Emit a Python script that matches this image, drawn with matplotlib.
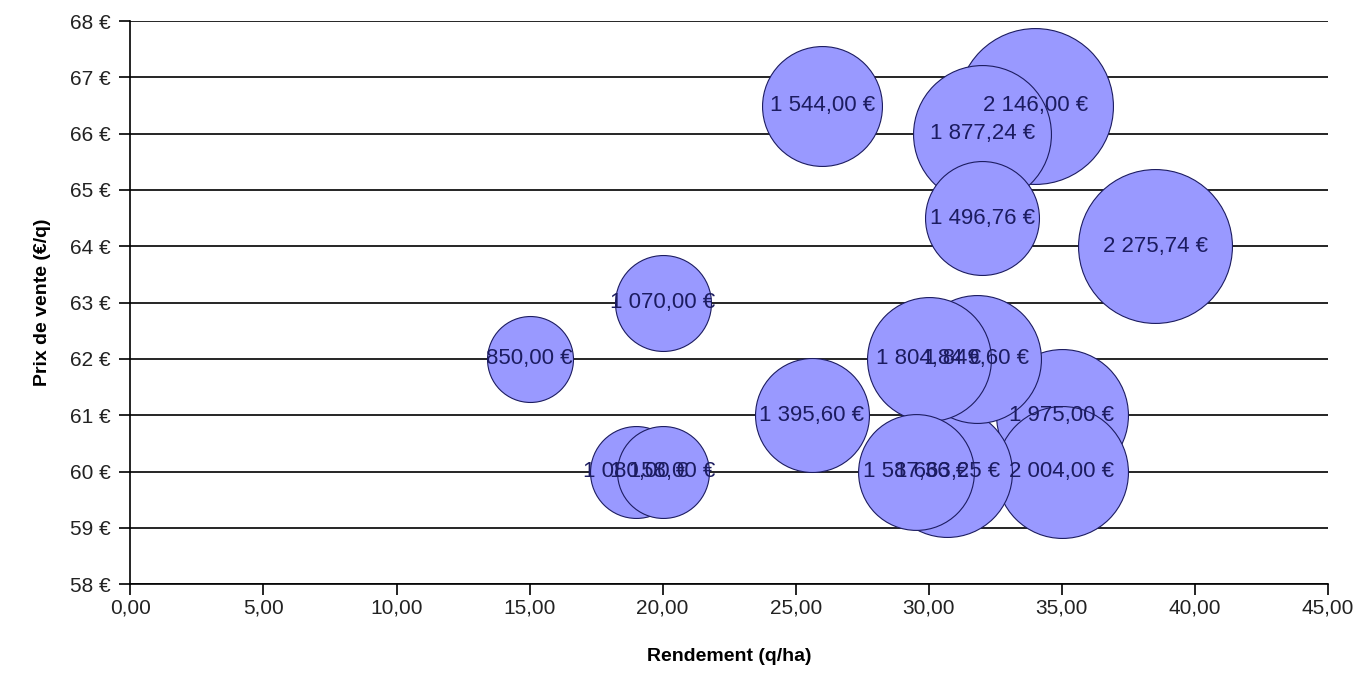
import matplotlib
matplotlib.use('Agg')
import matplotlib.pyplot as plt
from matplotlib.ticker import FuncFormatter

#Rendement (q/ha) and prix de vente (euros/q) of each parcel
rendement = [26.0, 34.0, 32.0, 32.0, 38.5, 20.0, 15.0, 30.0, 31.8, 25.6, 35.0, 35.0, 19.0, 20.0, 29.5, 30.7]
prix = [66.5, 66.5, 66.0, 64.5, 64.0, 63.0, 62.0, 62.0, 62.0, 61.0, 61.0, 60.0, 60.0, 60.0, 60.0, 60.0]

#Values shown in the labels
marge = [1544.00, 2146.00, 1877.24, 1496.76, 2275.74, 1070.00, 850.00, 1804.84, 1849.60, 1395.60,
         1975.00, 2004.00, 1080.00, 1158.00, 1587.36, 1663.25]

#Bubble sizes (area)
taille = [1656, 2799, 2190, 1495, 2728, 1060, 851, 1768, 1884, 1495, 2004, 2004, 973, 973, 1545, 1944]


def euro(v):
	#French format: 1 544,00 €
	s = '{:,.2f}'.format(v).replace(',', ' ').replace('.', ',')
	return s + ' €'


def bubble_chart(output):

	plt.rcParams['font.family'] = ['Liberation Sans', 'DejaVu Sans']

	fig = plt.figure(figsize=(13.72, 6.80), dpi=100)
	ax = fig.add_axes([0.095, 0.141, 0.873, 0.828])

	#Biggest bubbles first so the small ones stay visible
	order = sorted(range(len(taille)), key=lambda i: -taille[i])
	for z, i in enumerate(order):
		ax.scatter(rendement[i], prix[i], s=taille[i] * 4.5, color='#9999FF',
		           edgecolors='#1c1c60', linewidths=0.8, zorder=3 + z * 0.01)

	#Labels drawn over every bubble, as in the original
	for i in range(len(marge)):
		ax.text(rendement[i], prix[i], euro(marge[i]), ha='center', va='center',
		        fontsize=16, color='#1c1c60', zorder=10)

	ax.set_xlim(0, 45)
	ax.set_ylim(58, 68)
	ax.set_xticks(range(0, 46, 5))
	ax.set_yticks(range(58, 69))
	ax.xaxis.set_major_formatter(FuncFormatter(lambda v, p: '{:.2f}'.format(v).replace('.', ',')))
	ax.yaxis.set_major_formatter(FuncFormatter(lambda v, p: '{:d} €'.format(int(v))))

	#Horizontal grid only
	ax.yaxis.grid(True, color='black', linewidth=1.2, zorder=1)
	ax.set_axisbelow(True)
	for side in ['top', 'right']:
		ax.spines[side].set_visible(False)
	for side in ['left', 'bottom']:
		ax.spines[side].set_linewidth(1.2)

	ax.tick_params(axis='x', direction='out', length=8, width=1.2,
	               labelsize=15, labelcolor='#222222', pad=2)
	ax.tick_params(axis='y', direction='out', length=8, width=1.2,
	               labelsize=15, labelcolor='#222222', pad=6)

	ax.set_xlabel('Rendement (q/ha)', fontsize=14, fontweight='bold', labelpad=22)
	ax.set_ylabel('Prix de vente (€/q)', fontsize=14, fontweight='bold', labelpad=14)

	fig.savefig(output, dpi=100)


def main():
	bubble_chart('out.png')


if __name__ == '__main__':
	main()
